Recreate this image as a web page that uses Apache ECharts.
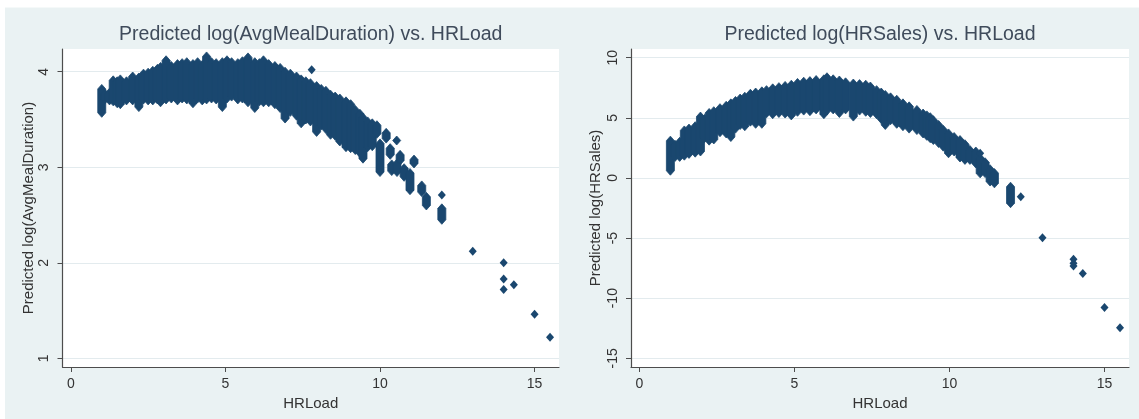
<!DOCTYPE html>
<html>
<head>
<meta charset="utf-8">
<script src="https://cdn.jsdelivr.net/npm/echarts@6/dist/echarts.min.js"></script>
<style>html,body{margin:0;padding:0;background:#fff}#c{width:1139px;height:419px}</style>
</head>
<body>
<div id="c"></div>
<script>
// ---- titles / axis names ----
var titles = ['Predicted log(AvgMealDuration) vs. HRLoad', 'Predicted log(HRSales) vs. HRLoad'];
var yNames = ['Predicted log(AvgMealDuration)', 'Predicted log(HRSales)'];
var xName = 'HRLoad';
var xTicks = [0, 5, 10, 15];
var yTicksLeft = [1, 2, 3, 4];
var yTicksRight = [-15, -10, -5, 0, 5, 10];

// ---- left panel: dense cloud as columns [HRLoad, low, high] ----
var leftCloud = [
  [1.0, 3.57, 3.82], [1.1, 3.71, 3.77], [1.25, 3.70, 3.78], [1.37, 3.69, 3.91], [1.5, 3.67, 3.90],
  [1.6, 3.66, 3.92], [1.8, 3.70, 3.90], [2.0, 3.70, 3.95], [2.2, 3.63, 3.94], [2.35, 3.71, 3.98],
  [2.5, 3.70, 3.99], [2.65, 3.70, 4.01], [2.8, 3.71, 4.03], [2.9, 3.68, 4.05], [3.08, 3.71, 4.12],
  [3.25, 3.72, 4.06], [3.45, 3.70, 4.08], [3.6, 3.72, 4.09], [3.75, 3.71, 4.10], [3.95, 3.67, 4.08],
  [4.1, 3.72, 4.10], [4.25, 3.70, 4.07], [4.39, 3.71, 4.16], [4.55, 3.72, 4.10], [4.7, 3.71, 4.09],
  [4.9, 3.63, 4.10], [5.05, 3.72, 4.12], [5.2, 3.74, 4.10], [5.4, 3.71, 4.09], [5.55, 3.72, 4.11],
  [5.73, 3.68, 4.15], [5.95, 3.62, 4.10], [6.1, 3.69, 4.09], [6.23, 3.68, 4.12], [6.4, 3.68, 4.08],
  [6.6, 3.66, 4.06], [6.77, 3.62, 4.04], [6.93, 3.51, 4.00], [7.1, 3.58, 3.98], [7.3, 3.54, 3.95],
  [7.45, 3.46, 3.92], [7.6, 3.50, 3.90], [7.75, 3.48, 3.88], [7.95, 3.37, 3.85], [8.1, 3.44, 3.82],
  [8.25, 3.40, 3.80], [8.4, 3.34, 3.76], [8.55, 3.33, 3.74], [8.7, 3.27, 3.72], [8.9, 3.21, 3.69],
  [9.05, 3.20, 3.66], [9.2, 3.18, 3.60], [9.35, 3.15, 3.56], [9.45, 3.09, 3.52], [9.6, 3.21, 3.48],
  [9.75, 3.22, 3.46], [9.9, 3.35, 3.44], [10.0, 2.95, 3.25], [10.2, 3.30, 3.36], [10.33, 3.13, 3.20],
  [10.38, 2.96, 3.03], [10.54, 3.28, 3.28], [10.55, 2.95, 3.04], [10.65, 3.07, 3.13], [10.78, 2.90, 2.99],
  [11.1, 3.04, 3.08], [10.97, 2.76, 2.94], [11.35, 2.74, 2.81], [11.5, 2.60, 2.69], [12.0, 2.45, 2.57]
];
// isolated left points [HRLoad, value]
var leftPoints = [
  [7.79, 4.02], [12.0, 2.71], [13.0, 2.12], [14.0, 2.00], [14.0, 1.83], [14.0, 1.72],
  [14.33, 1.77], [15.0, 1.46], [15.5, 1.22]
];

// ---- right panel ----
var rightCloud = [
  [1.0, 0.6, 3.1], [1.15, 1.75, 2.75], [1.3, 1.75, 3.0], [1.45, 1.85, 3.95], [1.6, 2.0, 4.1],
  [1.8, 2.1, 4.3], [1.97, 2.2, 5.1], [2.1, 3.3, 4.9], [2.25, 3.1, 5.4], [2.4, 3.2, 5.55],
  [2.6, 3.8, 5.8], [2.8, 3.7, 6.0], [2.95, 3.4, 6.2], [3.1, 4.1, 6.4], [3.25, 4.4, 6.6],
  [3.4, 4.3, 6.75], [3.58, 4.68, 7.0], [3.75, 4.5, 7.1], [3.95, 4.5, 7.2], [4.1, 5.37, 7.3],
  [4.3, 5.3, 7.45], [4.5, 5.4, 7.55], [4.7, 5.35, 7.65], [4.9, 5.2, 7.75], [5.1, 5.5, 7.9],
  [5.3, 5.6, 8.0], [5.5, 5.55, 8.05], [5.7, 5.7, 8.14], [5.95, 5.3, 8.2], [6.05, 5.6, 8.37],
  [6.25, 5.7, 8.2], [6.45, 5.4, 8.1], [6.65, 5.7, 7.95], [6.9, 5.1, 7.85], [7.1, 5.6, 7.8],
  [7.3, 5.5, 7.75], [7.45, 5.4, 7.6], [7.65, 5.3, 7.3], [7.8, 4.9, 7.1], [7.93, 4.4, 6.9],
  [8.1, 4.8, 6.7], [8.3, 4.5, 6.5], [8.5, 4.3, 6.2], [8.7, 4.1, 5.95], [8.95, 3.98, 5.65],
  [9.15, 3.7, 5.35], [9.27, 3.5, 5.2], [9.38, 3.3, 5.05], [9.48, 3.15, 4.8], [9.65, 2.9, 4.4],
  [9.8, 2.6, 4.0], [9.97, 2.05, 3.7], [10.15, 2.2, 3.4], [10.34, 1.7, 3.15], [10.5, 1.5, 2.8],
  [10.66, 1.5, 2.32], [10.85, 1.2, 2.2], [10.99, 0.38, 1.65], [11.15, 0.4, 1.3], [11.31, -0.3, 0.72],
  [11.45, -0.45, 0.4], [11.97, -2.1, -0.73]
];
var rightPoints = [
  [10.99, 2.05], [12.3, -1.56], [13.0, -4.98], [14.0, -6.77], [14.0, -7.1], [14.0, -7.33],
  [14.3, -7.94], [15.0, -10.77], [15.5, -12.46]
];

var NAVY = '#1a476f';
var FONT = 'Liberation Sans, Arial, sans-serif';

function renderCol(params, api) {
  var x = api.value(0), lo = api.value(1), hi = api.value(2);
  var pt = api.coord([x, hi]);
  var pb = api.coord([x, lo]);
  var w = 4, h = 4.5;
  return {
    type: 'polygon',
    shape: { points: [
      [pt[0] - w, pt[1]], [pt[0], pt[1] - h], [pt[0] + w, pt[1]],
      [pb[0] + w, pb[1]], [pb[0], pb[1] + h], [pb[0] - w, pb[1]]
    ] },
    style: { fill: NAVY, stroke: NAVY, lineWidth: 0.8 }
  };
}

function xAxis(idx) {
  return {
    type: 'value', gridIndex: idx, min: -0.27, max: 15.79,
    name: xName, nameLocation: 'middle', nameGap: 23,
    nameTextStyle: { fontSize: 15, color: '#333', fontFamily: FONT },
    axisLine: { show: true, onZero: false, lineStyle: { color: '#4d4d4d', width: 1.2 } },
    axisTick: { show: true, length: 5, customValues: xTicks, lineStyle: { color: '#4d4d4d' } },
    axisLabel: { customValues: xTicks, margin: 10, fontSize: 14, color: '#333', fontFamily: FONT },
    splitLine: { show: false }
  };
}
function yAxis(idx, min, max, ticks, gap) {
  return {
    type: 'value', gridIndex: idx, min: min, max: max,
    name: yNames[idx], nameLocation: 'middle', nameGap: gap,
    nameTextStyle: { fontSize: 15, color: '#333', fontFamily: FONT },
    axisLine: { show: true, onZero: false, lineStyle: { color: '#4d4d4d', width: 1.2 } },
    axisTick: { show: true, length: 5, customValues: ticks, lineStyle: { color: '#4d4d4d' } },
    axisLabel: { customValues: ticks, rotate: 90, margin: 11, fontSize: 14, color: '#333', fontFamily: FONT },
    splitLine: { show: true, lineStyle: { color: '#e3ebee', width: 1 } }
  };
}

var chart = echarts.init(document.getElementById('c'), null, { renderer: 'canvas' });
chart.setOption({
  animation: false,
  backgroundColor: '#eaf2f3',
  graphic: [
    { type: 'rect', shape: { x: 0, y: 0, width: 1139, height: 7.5 }, style: { fill: '#fff' }, silent: true },
    { type: 'rect', shape: { x: 0, y: 0, width: 5, height: 419 }, style: { fill: '#fff' }, silent: true }
  ],
  title: [
    { text: titles[0], left: 310.75, top: 25, padding: 0, textAlign: 'center',
      textStyle: { fontSize: 19.5, fontWeight: 'normal', color: '#3f4b5b', fontFamily: FONT } },
    { text: titles[1], left: 880, top: 25, padding: 0, textAlign: 'center',
      textStyle: { fontSize: 19.5, fontWeight: 'normal', color: '#3f4b5b', fontFamily: FONT } }
  ],
  grid: [
    { left: 62.5, top: 49, width: 496.5, height: 318, show: true, backgroundColor: '#fff', borderWidth: 0 },
    { left: 631, top: 49, width: 498, height: 318, show: true, backgroundColor: '#fff', borderWidth: 0 }
  ],
  xAxis: [xAxis(0), xAxis(1)],
  yAxis: [
    yAxis(0, 0.909, 4.238, yTicksLeft, 26),
    yAxis(1, -15.72, 10.72, yTicksRight, 28)
  ],
  series: [
    { type: 'custom', xAxisIndex: 0, yAxisIndex: 0, data: leftCloud, renderItem: renderCol,
      encode: { x: 0, y: [1, 2] } },
    { type: 'scatter', xAxisIndex: 0, yAxisIndex: 0, data: leftPoints, symbol: 'diamond',
      symbolSize: [8, 9], itemStyle: { color: NAVY, opacity: 1 } },
    { type: 'custom', xAxisIndex: 1, yAxisIndex: 1, data: rightCloud, renderItem: renderCol,
      encode: { x: 0, y: [1, 2] } },
    { type: 'scatter', xAxisIndex: 1, yAxisIndex: 1, data: rightPoints, symbol: 'diamond',
      symbolSize: [8, 9], itemStyle: { color: NAVY, opacity: 1 } }
  ]
});
</script>
</body>
</html>
